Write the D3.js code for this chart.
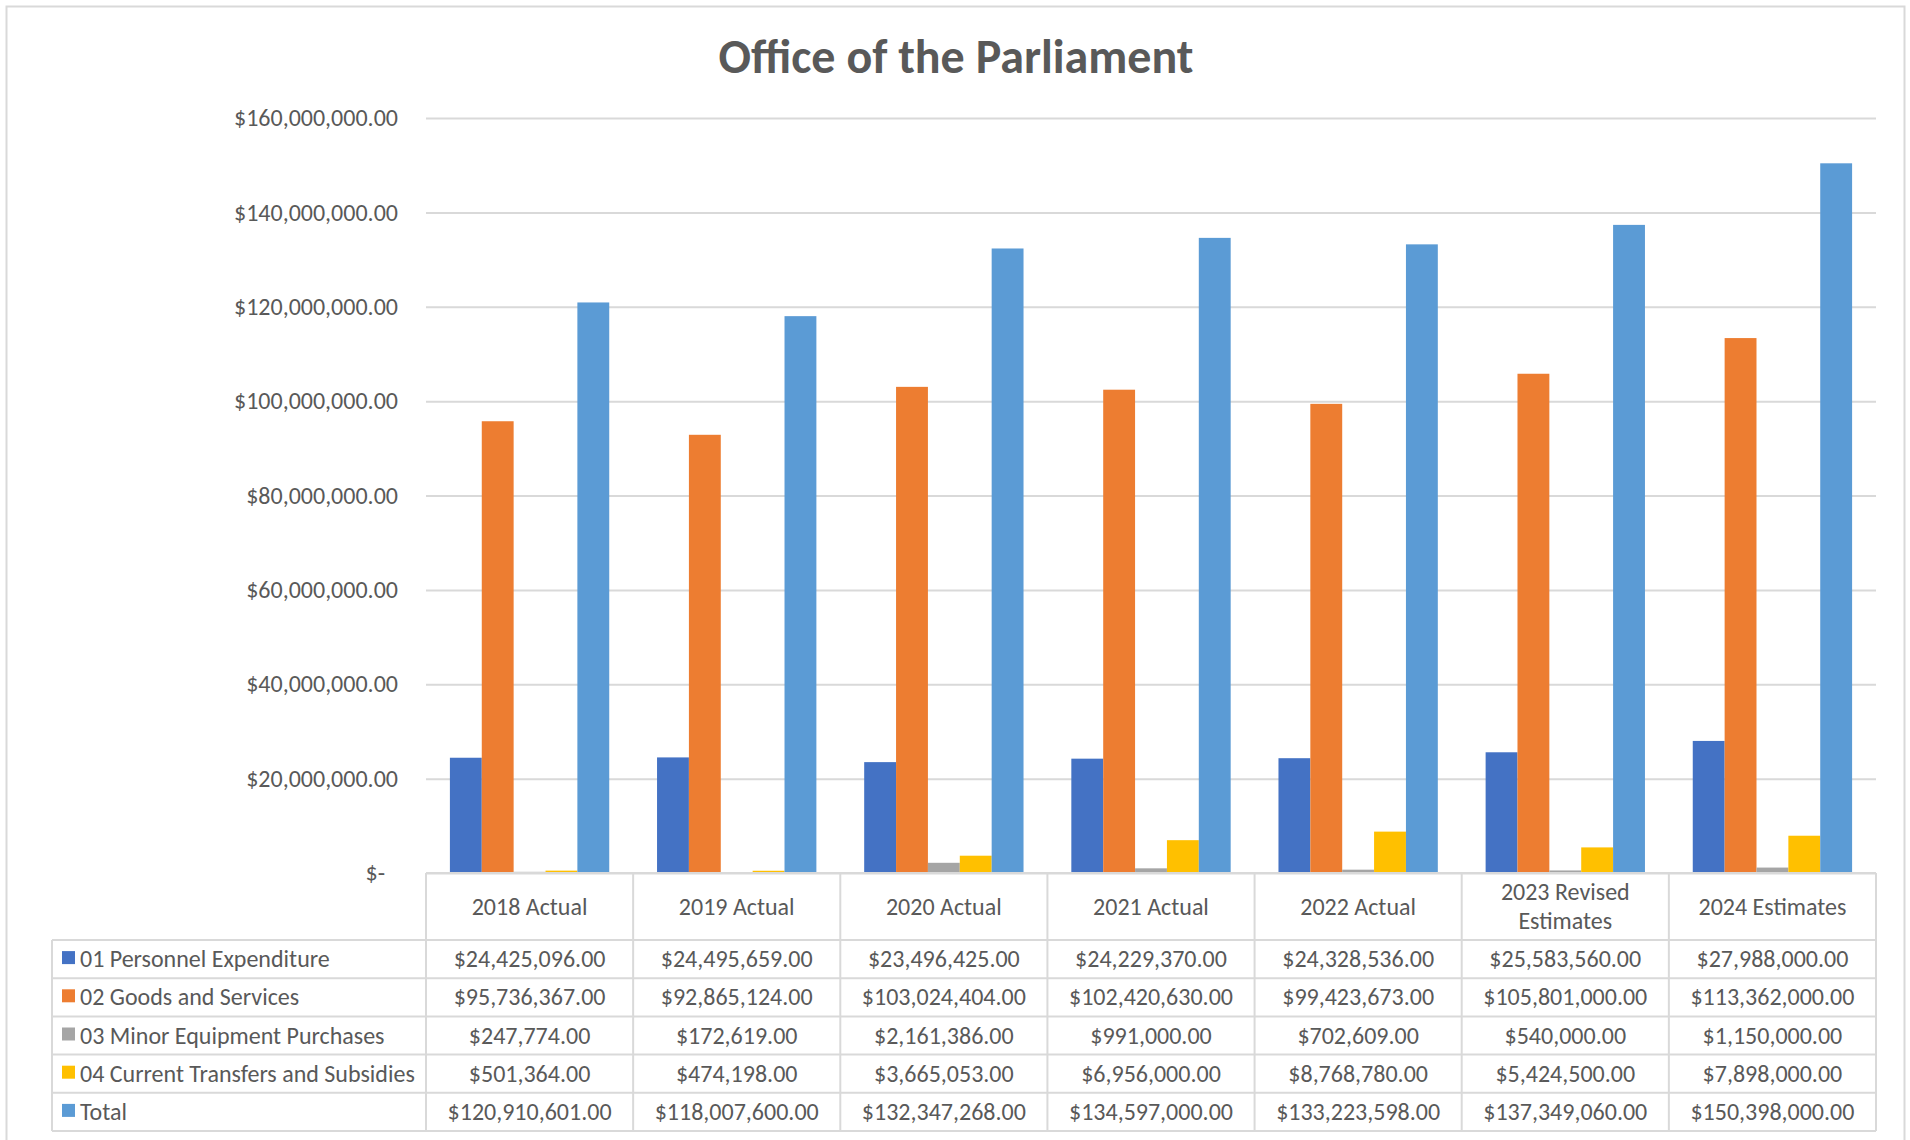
<!DOCTYPE html>
<html>
<head>
<meta charset="utf-8">
<script src="https://cdn.jsdelivr.net/npm/d3@7"></script>
<style>
    body { margin: 0; background: #fff; }
    svg { display: block; }
    text { font-family: Carlito, Calibri, "Liberation Sans", Arial, sans-serif; fill: #595959; }
</style>
</head>
<body>
<svg id="chart"></svg>
<script>
// Chart data
const categories = ["2018 Actual", "2019 Actual", "2020 Actual", "2021 Actual", "2022 Actual", "2023 Revised Estimates", "2024 Estimates"];
const seriesNames = ["01 Personnel Expenditure", "02 Goods and Services", "03 Minor Equipment Purchases", "04 Current Transfers and Subsidies", "Total"];
const personnel = [24425096, 24495659, 23496425, 24229370, 24328536, 25583560, 27988000];
const goodsServices = [95736367, 92865124, 103024404, 102420630, 99423673, 105801000, 113362000];
const minorEquipment = [247774, 172619, 2161386, 991000, 702609, 540000, 1150000];
const transfers = [501364, 474198, 3665053, 6956000, 8768780, 5424500, 7898000];
const totals = [120910601, 118007600, 132347268, 134597000, 133223598, 137349060, 150398000];
const yTicks = [0, 20000000, 40000000, 60000000, 80000000, 100000000, 120000000, 140000000, 160000000];
const colors = ["#4472C4", "#ED7D31", "#A5A5A5", "#FFC000", "#5B9BD5"];

const seriesValues = [personnel, goodsServices, minorEquipment, transfers, totals];

const W = 1910, H = 1140;
const fontSize = "24px";
const svg = d3.select("#chart").attr("width", W).attr("height", H);

// outer chart border
svg.append("rect")
    .attr("x", 6.5).attr("y", 6.5)
    .attr("width", 1898).attr("height", 1160)
    .attr("fill", "#fff")
    .attr("stroke", "#D9D9D9")
    .attr("stroke-width", 2);

// Title
svg.append("text")
    .attr("x", 956)
    .attr("y", 73)
    .attr("text-anchor", "middle")
    .style("font-size", "48px")
    .style("font-weight", "bold")
    .text("Office of the Parliament");

// Plot area
const plot = { left: 426, right: 1876, top: 118, bottom: 873 };
const tableLeft = 52;
const headerBottom = 940;
const rowH = 38.2;

const x0 = d3.scaleBand()
    .domain(categories)
    .range([plot.left, plot.right])
    .paddingInner(1.5 / 6.5)
    .paddingOuter(0.75 / 6.5);

const x1 = d3.scaleBand()
    .domain(seriesNames)
    .range([0, x0.bandwidth()]);

const y = d3.scaleLinear()
    .domain([0, 160000000])
    .range([plot.bottom, plot.top]);

const money = d3.format("$,.2f");

// gridlines + y labels
const yAxis = d3.axisLeft(y)
    .tickValues(yTicks)
    .tickSize(-(plot.right - plot.left))
    .tickPadding(28)
    .tickFormat(d => d === 0 ? "$-\u2007" : money(d));

const yG = svg.append("g")
    .attr("transform", `translate(${plot.left},0)`)
    .call(yAxis);
yG.select(".domain").remove();
yG.selectAll(".tick line")
    .attr("stroke", "#D9D9D9")
    .attr("stroke-width", 2);
yG.selectAll(".tick text")
    .style("font-size", fontSize)
    .attr("fill", "#595959")
    .style("font-family", "Carlito, Calibri, 'Liberation Sans', Arial, sans-serif");

// Bars
const groups = svg.append("g")
    .selectAll("g")
    .data(categories)
    .join("g")
    .attr("transform", d => `translate(${x0(d)},0)`);

groups.selectAll("rect")
    .data((d, i) => seriesNames.map((s, j) => ({ series: s, value: seriesValues[j][i], color: colors[j] })))
    .join("rect")
    .attr("x", d => x1(d.series))
    .attr("y", d => y(d.value))
    .attr("width", x1.bandwidth())
    .attr("height", d => plot.bottom - y(d.value))
    .attr("fill", d => d.color);

// Data table under the chart
const table = svg.append("g");
const lineColor = "#D9D9D9";
const tableBottom = headerBottom + rowH * seriesNames.length;
const step = x0.step();
const colEdges = categories.map((c, i) => plot.left + i * step).concat([plot.right]);

function hline(x1_, x2_, yy) {
    table.append("line")
        .attr("x1", x1_).attr("x2", x2_).attr("y1", yy).attr("y2", yy)
        .attr("stroke", lineColor).attr("stroke-width", 2);
}
function vline(xx, y1_, y2_) {
    table.append("line")
        .attr("x1", xx).attr("x2", xx).attr("y1", y1_).attr("y2", y2_)
        .attr("stroke", lineColor).attr("stroke-width", 2);
}

// horizontal lines
hline(plot.left, plot.right, plot.bottom);
for (let r = 0; r <= seriesNames.length; r++) {
    hline(tableLeft, plot.right, headerBottom + r * rowH);
}
// vertical lines
vline(tableLeft, headerBottom, tableBottom);
colEdges.forEach(xx => vline(xx, plot.bottom, tableBottom));

// header labels, wrapped when too wide for the column
categories.forEach((c, i) => {
    const cx = colEdges[i] + step / 2;
    const t = table.append("text")
        .attr("x", cx)
        .attr("text-anchor", "middle")
        .style("font-size", fontSize)
        .text(c);
    const midY = (plot.bottom + headerBottom) / 2;
    if (t.node().getComputedTextLength() > step - 16) {
        const words = c.split(" ");
        const lines = [words.slice(0, -1).join(" "), words[words.length - 1]];
        t.text(null);
        lines.forEach((ln, k) => {
            t.append("tspan")
                .attr("x", cx)
                .attr("y", midY + (k - 0.5) * 29 + 8)
                .text(ln);
        });
    } else {
        t.attr("y", midY + 8);
    }
});

// legend keys + values
seriesNames.forEach((s, j) => {
    const rowTop = headerBottom + j * rowH;
    const mid = rowTop + rowH / 2;
    table.append("rect")
        .attr("x", 62).attr("y", mid - 8)
        .attr("width", 13).attr("height", 13)
        .attr("fill", colors[j]);
    table.append("text")
        .attr("x", 80).attr("y", mid + 8)
        .style("font-size", fontSize)
        .text(s);
    seriesValues[j].forEach((v, i) => {
        table.append("text")
            .attr("x", colEdges[i] + step / 2)
            .attr("y", mid + 8)
            .attr("text-anchor", "middle")
            .style("font-size", fontSize)
            .text(money(v));
    });
});
</script>
</body>
</html>
